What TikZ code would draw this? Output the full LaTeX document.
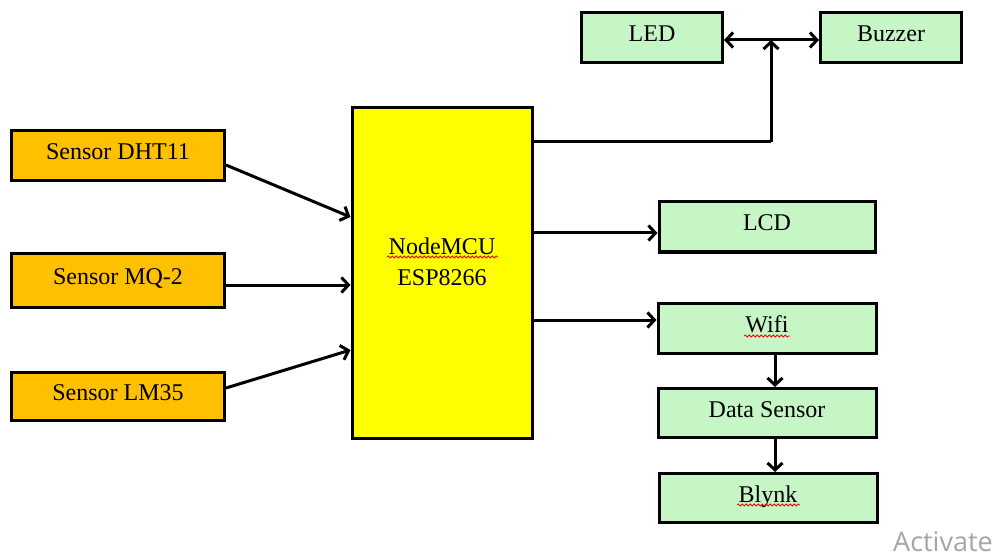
\documentclass[tikz,border=0pt]{standalone}
\usepackage{fontspec}
\setmainfont{Liberation Serif}
\newfontfamily\winfont{Open Sans}
\usetikzlibrary{arrows.meta,decorations.pathmorphing}
\definecolor{boxgreen}{RGB}{198,245,198}
\definecolor{boxorange}{RGB}{255,192,0}
\definecolor{boxyellow}{RGB}{255,255,0}
\tikzset{
  blk/.style={draw=black, line width=3pt, inner sep=0pt, text height=16pt, text depth=8pt, font=\fontsize{24}{28}\selectfont},
  greenbox/.style={blk, fill=boxgreen},
  sensorbox/.style={blk, fill=boxorange, minimum width=213pt},
  arr/.style={line width=3pt, -{Straight Barb[length=7pt,width=15pt,line width=3pt]}},
  conn/.style={line width=3pt},
  squig/.style={red, line width=0.8pt, decorate, decoration={snake, amplitude=1pt, segment length=4pt}}
}
\begin{document}
\begin{tikzpicture}[x=1pt,y=-1pt]
\useasboundingbox (0,0) rectangle (1004,556);
\fill[white] (0,0) rectangle (1004,556);

% boxes
\node[greenbox, minimum width=141pt, minimum height=50pt] (LED) at (652,38) {LED};
\node[greenbox, minimum width=141pt, minimum height=50pt] (BUZ) at (891,38) {Buzzer};
\node[sensorbox, minimum height=50pt] (DHT) at (118,156) {Sensor DHT11};
\node[sensorbox, minimum height=54pt] (MQ) at (118,280) {Sensor MQ-2};
\node[sensorbox, minimum height=48pt] (LM) at (118,396) {Sensor LM35};
\node[blk, fill=boxyellow, minimum width=180pt, minimum height=330pt] (MCU) at (442,273) {};
\node[align=center, font=\fontsize{24}{31}\selectfont] (MCUtxt) at (442,262) {NodeMCU\\ESP8266};
\node[greenbox, minimum width=216pt, minimum height=50pt] (LCD) at (767,227) {LCD};
\node[greenbox, minimum width=218pt, minimum height=50pt] (WIFI) at (767,328) {Wifi};
\node[greenbox, minimum width=218pt, minimum height=49pt] (DATA) at (767,413) {Data Sensor};
\node[greenbox, minimum width=218pt, minimum height=49pt] (BLY) at (768,498) {Blynk};

% spell-check squiggles
\draw[squig] (387,257) -- (498,257);
\draw[squig] (744,336) -- (790,336);
\draw[squig] (737,505) -- (800,505);

% inputs
\draw[arr] ([yshift=-9pt]DHT.east) -- ([yshift=56pt]MCU.west);
\draw[arr] ([yshift=-5pt]MQ.east) -- ([yshift=-12pt]MCU.west);
\draw[arr] ([yshift=8pt]LM.east) -- ([yshift=-77pt]MCU.west);

% outputs
\coordinate (J) at (771,40);
\coordinate (Jlow) at (771,142);
\draw[conn] (MCU.east |- Jlow) -- (Jlow);
\draw[arr] (Jlow) -- (J);
\draw[arr] (J) -- (LED.east |- J);
\draw[arr] (J) -- (BUZ.west |- J);

\coordinate (LCDin) at ([yshift=-6pt]LCD.west);
\draw[arr] (MCU.east |- LCDin) -- (LCDin);
\coordinate (WIFIin) at ([yshift=8pt]WIFI.west);
\draw[arr] (MCU.east |- WIFIin) -- (WIFIin);

\draw[arr] (WIFI.south -| 775,0) -- (DATA.north -| 775,0);
\draw[arr] (DATA.south -| 775,0) -- (BLY.north -| 775,0);

% watermark
\node[anchor=base west, text=black!35, font=\winfont\fontsize{27}{30}\selectfont, inner sep=0pt] (ACT) at (893,551) {Activate};
\end{tikzpicture}
\end{document}
